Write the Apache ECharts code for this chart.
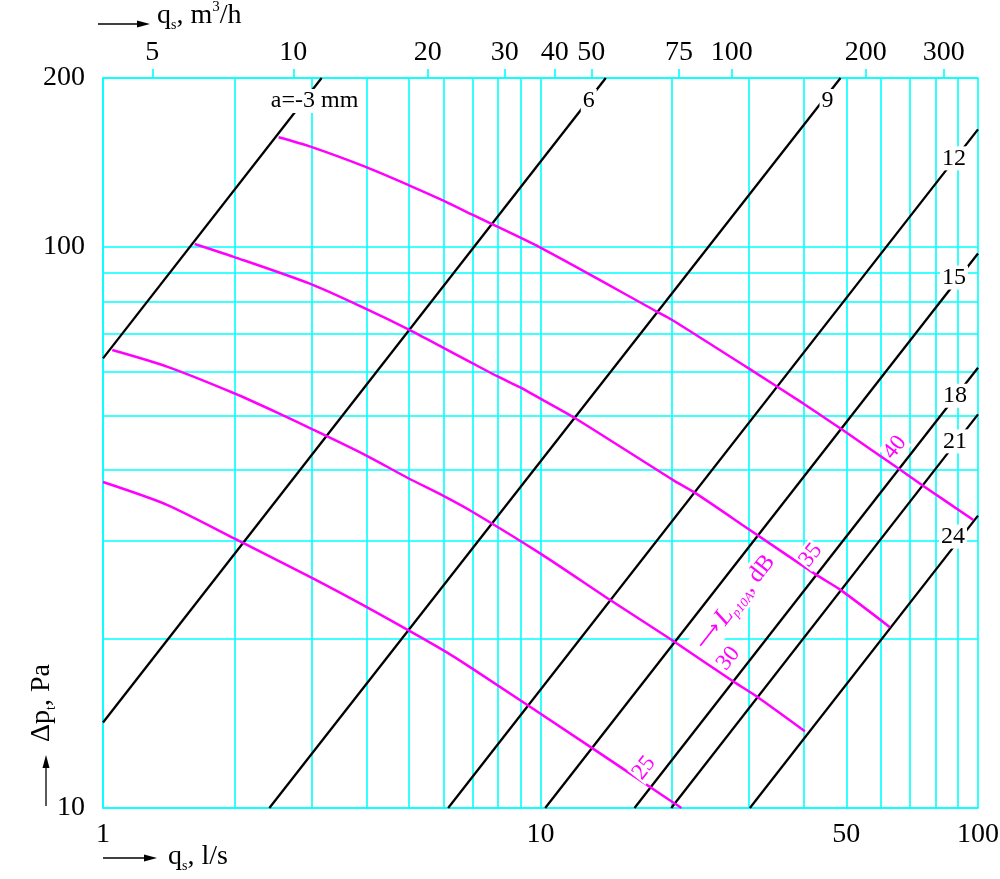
<!DOCTYPE html>
<html>
<head>
<meta charset="utf-8">
<script src="https://cdn.jsdelivr.net/npm/echarts@6/dist/echarts.min.js"></script>
<style>html,body{margin:0;padding:0;background:#fff}#chart{width:1000px;height:879px}</style>
</head>
<body>
<div id="chart"></div>
<script>
// ---------- axes ----------
const xGridValues = [1, 2, 3, 4, 5, 6, 7, 8, 9, 10, 20, 30, 40, 50, 60, 70, 80, 90, 100];
const xLabelValues = [1, 10, 50, 100];
const yGridValues = [10, 20, 30, 40, 50, 60, 70, 80, 90, 100, 200];
const yLabelValues = [10, 100, 200];
// top scale: q_s in m3/h, and where each tick sits on the l/s scale as drawn
const topTickLabels = [5, 10, 20, 30, 40, 50, 75, 100, 200, 300];
const topTickAtLs = [1.296, 2.723, 5.524, 8.283, 10.78, 13.07, 20.73, 27.35, 55.38, 83.48];

// ---------- black lines (a, mm): end points [q_s l/s, dp Pa] ----------
const lineMinus3 = [[1, 63.3], [3.16, 200]];
const line6 = [[1, 14.2], [14.1, 200]];
const line9 = [[2.4, 10], [48.5, 200]];
const line12 = [[6.15, 10], [100, 162]];
const line15 = [[10.25, 10], [100, 97.3]];
const line18 = [[16.4, 10], [100, 60.9]];
const line21 = [[19.9, 10], [100, 50.3]];
const line24 = [[30.1, 10], [100, 33.2]];
const lineLabels = ['a=-3 mm', '6', '9', '12', '15', '18', '21', '24'];

// ---------- magenta curves (L_p10A, dB) ----------
const curve40 = [[2.52, 156.8], [2.98, 150.9], [3.97, 139.0], [4.99, 128.9], [6.0, 120.9], [7.0, 114.0],
  [9.97, 99.8], [18.44, 76.7], [20.0, 74.1], [29.85, 60.8], [40.0, 52.5], [48.8, 47.3],
  [66.3, 40.1], [75.0, 37.5], [97.6, 32.6]];
const curve35 = [[1.62, 101.2], [1.99, 96.0], [2.98, 85.9], [3.97, 77.7], [4.99, 71.3], [6.0, 66.1],
  [7.0, 62.0], [8.0, 58.7], [8.94, 56.3], [9.97, 53.7], [12.0, 49.5], [20.1, 38.4], [22.6, 36.4],
  [30.1, 31.3], [42.8, 26.0], [48.4, 24.5], [62.9, 21.0]];
const curve30 = [[1.05, 65.5], [1.40, 61.2], [2.0, 54.8], [2.61, 49.9], [2.98, 47.5], [3.97, 42.6],
  [4.99, 38.7], [6.0, 36.0], [7.0, 33.7], [10.0, 28.4], [14.4, 23.5],
  [20.0, 19.9], [27.6, 16.8], [31.2, 15.8], [40.2, 13.7]];
const curve25 = [[1.0, 38.1], [1.40, 34.7], [2.0, 30.2], [2.98, 25.8], [3.97, 22.9], [6.0, 19.1],
  [7.0, 17.7], [13.1, 12.8], [17.8, 10.9], [21.0, 10.0]];
const curveLabels = ['40', '35', '30', '25'];

// ---------- styling ----------
const FONT = 'Liberation Serif';
const CYAN = '#00ffff';
const MAGENTA = '#ff00ff';
const lineLabelShift = [[-7, 23], [-17, 23], [-13, 23], [-24, 29], [-24, 24], [-23, 28], [-23, 27], [-25, 21]];
const curveLabelIndex = [12, 14, 12, 8];
const curveLabelShift = [[-5, -22], [-6, -20], [-5, -23], [-6, -19]];
const ROT = 52;

const blackData = [lineMinus3, line6, line9, line12, line15, line18, line21, line24];
const curveData = [curve40, curve35, curve30, curve25];

const series = [];
blackData.forEach((d, i) => {
  series.push({
    type: 'line', name: lineLabels[i], data: d, symbol: 'none', clip: false, silent: true, z: 3,
    lineStyle: { color: '#000', width: 2.3 },
    markPoint: {
      silent: true, symbol: 'circle', symbolSize: 1, itemStyle: { color: 'rgba(0,0,0,0)' },
      data: [{
        coord: d[d.length - 1], symbolOffset: lineLabelShift[i],
        label: { show: true, position: 'inside', formatter: lineLabels[i], color: '#000',
          fontFamily: FONT, fontSize: 24, backgroundColor: '#fff', padding: [0, 2] }
      }]
    }
  });
});
curveData.forEach((d, i) => {
  const mp = [{
    coord: d[curveLabelIndex[i]], symbolOffset: curveLabelShift[i],
    label: { show: true, position: 'inside', formatter: curveLabels[i], color: MAGENTA, rotate: ROT,
      fontFamily: FONT, fontSize: 23, backgroundColor: '#fff', padding: [0, 1] }
  }];
  if (curveLabels[i] === '30') {
    mp.push({
      coord: d[curveLabelIndex[i]], symbolOffset: [2, -79],
      label: { show: true, position: 'inside', rotate: ROT, color: MAGENTA, backgroundColor: '#fff', padding: [0, 2],
        formatter: '{ar|⟶} {it|L}{sub|p10A}{rm|, dB}',
        rich: {
          ar: { fontFamily: 'DejaVu Sans', fontSize: 20, color: MAGENTA, lineHeight: 28 },
          it: { fontFamily: FONT, fontStyle: 'italic', fontSize: 26, color: MAGENTA, lineHeight: 28 },
          sub: { fontFamily: FONT, fontStyle: 'italic', fontSize: 13, color: MAGENTA, lineHeight: 13, verticalAlign: 'bottom' },
          rm: { fontFamily: FONT, fontSize: 24, color: MAGENTA, lineHeight: 28 }
        } }
    });
  }
  series.push({
    type: 'line', name: 'L' + curveLabels[i], data: d, symbol: 'none', smooth: 0.25,
    clip: true, silent: true, z: 4, lineStyle: { color: MAGENTA, width: 2.5 },
    markPoint: { silent: true, symbol: 'circle', symbolSize: 1, itemStyle: { color: 'rgba(0,0,0,0)' }, data: mp }
  });
});

function arrowH(x0, x1, y) {
  return [
    { type: 'line', shape: { x1: x0, y1: y, x2: x1 - 8, y2: y }, style: { stroke: '#000', lineWidth: 1.3 } },
    { type: 'polygon', shape: { points: [[x1 - 13, y - 3.5], [x1, y], [x1 - 13, y + 3.5]] }, style: { fill: '#000' } }
  ];
}
function arrowV(x, y0, y1) {
  return [
    { type: 'line', shape: { x1: x, y1: y0, x2: x, y2: y1 + 8 }, style: { stroke: '#000', lineWidth: 1.3 } },
    { type: 'polygon', shape: { points: [[x - 3.5, y1 + 13], [x, y1], [x + 3.5, y1 + 13]] }, style: { fill: '#000' } }
  ];
}
const titleRich = {
  m: { fontFamily: FONT, fontSize: 28, lineHeight: 32, fill: '#000' },
  s: { fontFamily: FONT, fontSize: 14, lineHeight: 14, verticalAlign: 'bottom', fill: '#000' },
  p: { fontFamily: FONT, fontSize: 15, lineHeight: 15, verticalAlign: 'top', fill: '#000' }
};

const graphic = [].concat(
  arrowH(98, 150, 24),
  arrowH(103, 157, 858),
  arrowV(46, 806, 755),
  [
    { type: 'text', x: 157, y: 16, style: { text: '{m|q}{s|s}{m|, m}{p|3}{m|/h}', rich: titleRich, align: 'left', verticalAlign: 'middle' } },
    { type: 'text', x: 168, y: 857, style: { text: '{m|q}{s|s}{m|, l/s}', rich: titleRich, align: 'left', verticalAlign: 'middle' } },
    { type: 'text', x: 42, y: 703, rotation: Math.PI / 2, style: { text: '{m|Δp}{s|t}{m|, Pa}', rich: titleRich, align: 'center', verticalAlign: 'middle' } }
  ]
);

const axisLabelBase = { color: '#000', fontFamily: FONT, fontSize: 28 };
const option = {
  animation: false,
  backgroundColor: '#fff',
  textStyle: { fontFamily: FONT },
  grid: { left: 103, right: 22, top: 78, bottom: 71, containLabel: false, outerBoundsMode: 'none' },
  xAxis: [
    { type: 'log', logBase: 10, min: 1, max: 100, position: 'bottom',
      axisLine: { show: true, lineStyle: { color: CYAN, width: 1.6 } },
      axisTick: { show: false, customValues: xGridValues },
      axisLabel: Object.assign({ customValues: xLabelValues, margin: 13 }, axisLabelBase),
      splitLine: { show: true, lineStyle: { color: CYAN, width: 1.6 } },
      minorTick: { show: false }, minorSplitLine: { show: false } },
    { type: 'log', logBase: 10, min: 1, max: 100, position: 'top',
      axisLine: { show: true, lineStyle: { color: CYAN, width: 1.6 } },
      axisTick: { show: true, inside: false, length: 9, customValues: topTickAtLs, lineStyle: { color: CYAN, width: 1.6 } },
      axisLabel: Object.assign({ customValues: topTickAtLs, margin: 11,
        formatter: function (v) {
          for (let i = 0; i < topTickAtLs.length; i++) {
            if (Math.abs(topTickAtLs[i] - v) < 1e-3 * topTickAtLs[i]) return String(topTickLabels[i]);
          }
          return '';
        } }, axisLabelBase),
      splitLine: { show: false } }
  ],
  yAxis: [
    { type: 'log', logBase: 10, min: 10, max: 200,
      axisLine: { show: true, lineStyle: { color: CYAN, width: 1.6 } },
      axisTick: { show: false, customValues: yGridValues },
      axisLabel: Object.assign({ customValues: yLabelValues, margin: 18 }, axisLabelBase),
      splitLine: { show: true, lineStyle: { color: CYAN, width: 1.6 } },
      minorTick: { show: false }, minorSplitLine: { show: false } }
  ],
  series: series,
  graphic: graphic
};
const chart = echarts.init(document.getElementById('chart'));
chart.setOption(option);
</script>
</body>
</html>
